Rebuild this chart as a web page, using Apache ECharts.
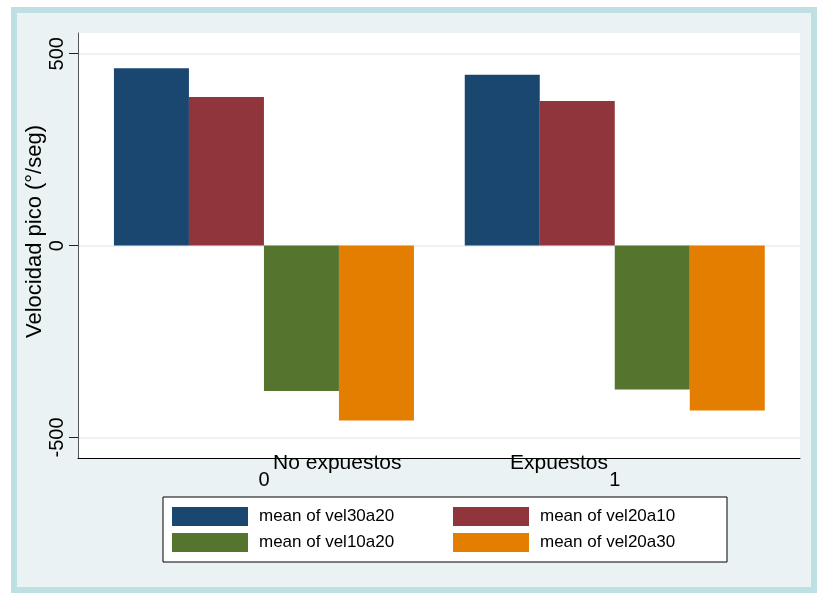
<!DOCTYPE html>
<html>
<head>
<meta charset="utf-8">
<script src="https://cdn.jsdelivr.net/npm/echarts@6/dist/echarts.min.js"></script>
<style>
  html, body { margin: 0; padding: 0; background: #ffffff; }
  #frame {
    position: absolute; left: 11px; top: 7px; width: 806px; height: 586px;
    box-sizing: border-box; border: 6px solid #bfe0e2; background: #eaf2f3;
  }
  #chart { position: absolute; left: 0; top: 0; width: 817px; height: 593px; }
</style>
</head>
<body>
<div id="frame"></div>
<div id="chart"></div>
<script>
// Groups on the numeric x axis (0 / 1) and their descriptive names
const groupTicks = [0, 1];
const groupNames = ['No expuestos', 'Expuestos'];
const groupNamePos = [0.209, 0.841];

// Mean peak velocity (deg/s) per group
const seriesNames = ['mean of vel30a20', 'mean of vel20a10', 'mean of vel10a20', 'mean of vel20a30'];
const vel30a20 = [462, 445];
const vel20a10 = [387, 377];
const vel10a20 = [-379, -375];
const vel20a30 = [-456, -430];
const seriesValues = [vel30a20, vel20a10, vel10a20, vel20a30];

// Y axis ticks
const yTicks = [-500, 0, 500];

const colors = ['#1a476f', '#90353b', '#55752f', '#e37e00'];
const font = "'Liberation Sans', Arial, sans-serif";

const chart = echarts.init(document.getElementById('chart'), null, { renderer: 'canvas' });

const option = {
  animation: false,
  backgroundColor: 'transparent',
  textStyle: { fontFamily: font, color: '#000' },
  grid: {
    left: 78, right: 17, top: 33, bottom: 135,
    show: true, backgroundColor: '#ffffff', borderWidth: 0
  },
  xAxis: {
    type: 'value',
    min: -0.53, max: 1.528,
    axisLine: { show: true, onZero: false, lineStyle: { color: '#000', width: 1 } },
    axisTick: { show: false },
    splitLine: { show: false },
    axisLabel: {
      customValues: groupTicks,
      fontSize: 20, color: '#000', margin: 12, fontFamily: font
    }
  },
  yAxis: {
    type: 'value',
    min: -553.5, max: 554,
    name: 'Velocidad pico (°/seg)',
    nameLocation: 'middle', nameRotate: 90, nameGap: 32,
    nameMoveOverlap: false,
    nameTextStyle: { fontSize: 22, color: '#000', fontFamily: font, padding: [0, 0, 0, 28] },
    axisLine: { show: true, onZero: false, lineStyle: { color: '#555', width: 1 } },
    axisTick: { show: true, customValues: yTicks, length: 9, lineStyle: { color: '#222' } },
    axisLabel: {
      customValues: yTicks, rotate: 90,
      fontSize: 20, color: '#000', margin: 11, fontFamily: font
    },
    splitLine: { show: false }
  },
  legend: {
    left: 163, top: 497, width: 560,
    orient: 'horizontal',
    itemWidth: 76, itemHeight: 19, itemGap: 7,
    padding: [10, 0, 10, 9],
    backgroundColor: '#ffffff', borderColor: '#000', borderWidth: 1,
    icon: 'rect', selectedMode: false,
    textStyle: { fontSize: 17, color: '#000', width: 187, padding: [0, 0, 0, 6], lineHeight: 19, fontFamily: font },
    data: seriesNames
  },
  series: seriesNames.map((name, i) => ({
    name,
    type: 'bar',
    barWidth: 75,
    barGap: '0%',
    itemStyle: { color: colors[i] },
    data: groupTicks.map((g, j) => [g, seriesValues[i][j]]),
    markLine: i === 0 ? {
      silent: true, symbol: 'none', z: 0,
      label: { show: false },
      lineStyle: { color: '#e6eef3', width: 1.5, type: 'solid' },
      data: yTicks.map(v => ({ yAxis: v }))
    } : undefined
  }))
};

chart.setOption(option);

// Group names sit just under the x axis line, positioned through the x scale
const axisBottom = chart.convertToPixel({ xAxisIndex: 0, yAxisIndex: 0 }, [0, -553.5])[1];
chart.setOption({
  graphic: groupNames.map((t, i) => ({
    type: 'text',
    x: chart.convertToPixel({ xAxisIndex: 0 }, groupNamePos[i]),
    y: axisBottom - 5,
    z: 100,
    style: { text: t, fontSize: 21, fontFamily: font, fill: '#000', align: 'center', verticalAlign: 'top' }
  }))
});
</script>
</body>
</html>
